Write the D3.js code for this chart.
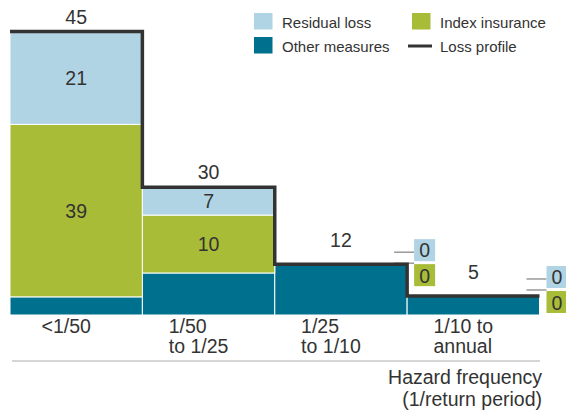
<!DOCTYPE html>
<html>
<head>
<meta charset="utf-8">
<script src="https://cdn.jsdelivr.net/npm/d3@7"></script>
<style>
  html, body { margin: 0; padding: 0; background: #fff; }
  svg { display: block; font-family: "Liberation Sans", Arial, Helvetica, sans-serif; }
</style>
</head>
<body>
<svg id="chart" width="566" height="411"></svg>
<script>
// ---- data ----
const categories = [["<1/50"], ["1/50", "to 1/25"], ["1/25", "to 1/10"], ["1/10 to", "annual"]];
const otherMeasures  = [4.1, 9.5, 11.5, 4.3];   // drawn heights
const indexInsurance = [39, 13.1, 0, 0];
const residualLoss   = [21, 6.3, 0, 0];
const indexLabels    = [39, 10, 0, 0];
const residualLabels = [21, 7, 0, 0];
const lossProfile    = [45, 30, 12, 5];
const seriesNames    = ["Residual loss", "Other measures", "Index insurance", "Loss profile"];
const axisTitle      = ["Hazard frequency", "(1/return period)"];

// ---- styles ----
const C = { other: "#00708f", index: "#a9bc38", resid: "#b0d4e3", line: "#333333", text: "#333333" };
const FS = 19.5;

const svg = d3.select("#chart");
const x = d3.scaleBand().domain(d3.range(categories.length)).range([10, 539.5]).padding(0);
const y = d3.scaleLinear().domain([0, 64]).range([315, 32]);

const rows = categories.map((c, i) => ({ i, other: otherMeasures[i], index: indexInsurance[i], resid: residualLoss[i] }));
const stack = d3.stack().keys(["other", "index", "resid"])(rows);
const colorOf = { other: C.other, index: C.index, resid: C.resid };

svg.append("g").selectAll("g").data(stack).join("g")
  .attr("fill", d => colorOf[d.key])
  .selectAll("rect").data(d => d.filter(p => p[1] - p[0] > 0)).join("rect")
  .attr("x", d => x(d.data.i))
  .attr("width", x.bandwidth())
  .attr("y", d => y(d[1]))
  .attr("height", d => y(d[0]) - y(d[1]))
  .attr("stroke", "#fff").attr("stroke-width", 1);

const tops = rows.map(r => r.other + r.index + r.resid);

// segment labels
const segLabels = [];
rows.forEach((r, i) => {
  if (r.index > 0) segLabels.push({ i, v: indexLabels[i], y0: r.other, y1: r.other + r.index });
  if (r.resid > 0) segLabels.push({ i, v: residualLabels[i], y0: r.other + r.index, y1: r.other + r.index + r.resid });
});
svg.append("g").selectAll("text").data(segLabels).join("text")
  .attr("x", d => x(d.i) + x.bandwidth() / 2)
  .attr("y", d => (y(d.y0) + y(d.y1)) / 2)
  .attr("dy", "0.36em")
  .attr("text-anchor", "middle")
  .attr("font-size", FS).attr("fill", C.text)
  .text(d => d.v);

// zero-value callouts
const zeroShift = [0, 0, 0, -5];
rows.forEach((r, i) => {
  if (r.index > 0 || r.resid > 0) return;
  const xe = x(i) + x.bandwidth();
  const yt = y(tops[i]) + zeroShift[i];
  const bx = xe + 7;
  const g = svg.append("g");
  // residual (blue) box above
  g.append("line").attr("x1", xe - 13).attr("x2", bx).attr("y1", yt - 12).attr("y2", yt - 12)
    .attr("stroke", "#666").attr("stroke-width", 1);
  g.append("line").attr("x1", xe - 13).attr("x2", bx).attr("y1", yt - 1).attr("y2", yt - 1)
    .attr("stroke", "#666").attr("stroke-width", 1);
  g.append("rect").attr("x", bx).attr("y", yt - 25).attr("width", 21).attr("height", 22).attr("fill", C.resid);
  g.append("text").attr("x", bx + 10.5).attr("y", yt - 14).attr("dy", "0.36em").attr("text-anchor", "middle")
    .attr("font-size", FS).attr("fill", C.text).text(residualLabels[i]);
  g.append("rect").attr("x", bx).attr("y", yt).attr("width", 21).attr("height", 22).attr("fill", C.index);
  g.append("text").attr("x", bx + 10.5).attr("y", yt + 11.5).attr("dy", "0.36em").attr("text-anchor", "middle")
    .attr("font-size", FS).attr("fill", C.text).text(indexLabels[i]);
});

// loss profile step line
const pts = [];
tops.forEach((t, i) => { pts.push([x(i), y(t)]); pts.push([x(i) + x.bandwidth(), y(t)]); });
svg.append("path")
  .attr("d", d3.line()(pts))
  .attr("fill", "none").attr("stroke", C.line).attr("stroke-width", 3.5).attr("stroke-linejoin", "miter");

// loss profile labels
svg.append("g").selectAll("text").data(lossProfile).join("text")
  .attr("x", (d, i) => x(i) + x.bandwidth() / 2)
  .attr("y", (d, i) => y(tops[i]) - (i < 2 ? 8 : 17))
  .attr("text-anchor", "middle")
  .attr("font-size", FS).attr("fill", C.text)
  .text(d => d);

// category labels
categories.forEach((lines, i) => {
  const t = svg.append("text").attr("font-size", FS).attr("fill", C.text).attr("text-anchor", "start");
  lines.forEach((l, k) => t.append("tspan").attr("y", 333 + k * 20).text(l));
  const tsp = t.selectAll("tspan").nodes();
  const w = d3.max(tsp, n => n.getComputedTextLength());
  const cx = x(i) + x.bandwidth() / 2 - 10;
  t.selectAll("tspan").attr("x", cx - w / 2);
});

// rule under axis labels
svg.append("line").attr("x1", 12).attr("x2", 540).attr("y1", 361).attr("y2", 361)
  .attr("stroke", "#c8c8c8").attr("stroke-width", 1.5);

// axis title
axisTitle.forEach((s, k) => svg.append("text").attr("x", 542).attr("y", 384 + k * 22)
  .attr("text-anchor", "end").attr("font-size", FS).attr("fill", C.text).text(s));

// legend
const leg = svg.append("g").attr("font-size", 15).attr("fill", C.text);
const legItems = [
  { name: seriesNames[0], c: C.resid, x: 254, y: 13, type: "box" },
  { name: seriesNames[1], c: C.other, x: 254, y: 37, type: "box" },
  { name: seriesNames[2], c: C.index, x: 412, y: 13, type: "box" },
  { name: seriesNames[3], c: C.line,  x: 408, y: 37, type: "line" }
];
legItems.forEach(d => {
  if (d.type === "box") {
    leg.append("rect").attr("x", d.x).attr("y", d.y).attr("width", 18.5).attr("height", 16.5).attr("fill", d.c);
    leg.append("text").attr("x", d.x + 28).attr("y", d.y + 15).text(d.name);
  } else {
    leg.append("line").attr("x1", d.x).attr("x2", d.x + 24).attr("y1", d.y + 9).attr("y2", d.y + 9)
      .attr("stroke", d.c).attr("stroke-width", 3);
    leg.append("text").attr("x", d.x + 32).attr("y", d.y + 15).text(d.name);
  }
});
</script>
</body>
</html>
